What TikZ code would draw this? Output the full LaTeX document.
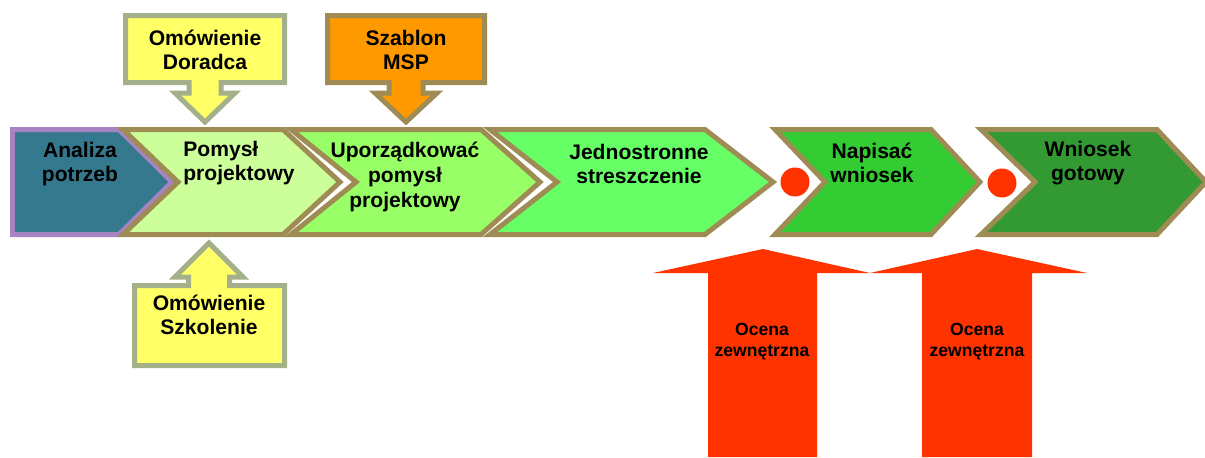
\documentclass[tikz,border=0pt]{standalone}
\usepackage{fontspec}
\setmainfont{Liberation Sans}
\usepackage{tikz}

\definecolor{obwodka}{HTML}{9E8C54}
\definecolor{fiolet}{HTML}{A783C2}
\definecolor{morski}{HTML}{35798F}
\definecolor{ziel1}{HTML}{CCFF99}
\definecolor{ziel2}{HTML}{99FF66}
\definecolor{ziel3}{HTML}{66FF66}
\definecolor{ziel4}{HTML}{33CC33}
\definecolor{ziel5}{HTML}{339933}
\definecolor{zolty}{HTML}{FFFF66}
\definecolor{szarozielony}{HTML}{A3B08A}
\definecolor{pomarancz}{HTML}{FF9900}
\definecolor{czerwony}{HTML}{FF3300}

\begin{document}
\begin{tikzpicture}[x=0.02cm, y=-0.02cm,
    ramka/.style={draw=obwodka, line width=0.1cm, line join=miter},
    napis/.style={font=\bfseries\fontsize{12}{14}\selectfont, align=center, inner sep=0pt},
    maly/.style={font=\bfseries\fontsize{10}{12}\selectfont, align=center, inner sep=0pt},
    kropka/.style={circle, fill=czerwony, minimum size=0.58cm, inner sep=0pt}]

    \useasboundingbox (0,0) rectangle (1205,457);

    % strzalki oceny
    \fill[czerwony] (708,457) -- (708,273) -- (653,273) -- (763,249) -- (870,273)
        -- (817,273) -- (817,457) -- cycle;
    \fill[czerwony] (922,457) -- (922,273) -- (870,273) -- (977,249) -- (1087,273)
        -- (1032,273) -- (1032,457) -- cycle;

    % etapy
    \draw[ramka, draw=fiolet, fill=morski] (12.5,129.5) -- (119,129.5) -- (172,182)
        -- (119,234.5) -- (12.5,234.5) -- cycle;
    \draw[ramka, fill=ziel1] (123,129.5) -- (283,129.5) -- (340,182) -- (283,234.5)
        -- (123,234.5) -- (178,182) -- cycle;
    \draw[ramka, fill=ziel2] (291,129.5) -- (481,129.5) -- (540,182) -- (481,234.5)
        -- (291,234.5) -- (356,182) -- cycle;
    \draw[ramka, fill=ziel3] (490,129.5) -- (705,129.5) -- (773,182) -- (705,234.5)
        -- (490,234.5) -- (557,182) -- cycle;
    \draw[ramka, fill=ziel4] (775,129.5) -- (931,129.5) -- (980,182) -- (931,234.5)
        -- (775,234.5) -- (825,182) -- cycle;
    \draw[ramka, fill=ziel5] (981,129.5) -- (1157,129.5) -- (1206,182) -- (1157,234.5)
        -- (981,234.5) -- (1035,182) -- cycle;

    \node[kropka] (k1) at (795,182) {};
    \node[kropka] (k2) at (1002,183) {};

    % objasnienia
    \draw[ramka, draw=szarozielony, fill=zolty] (125.5,15.5) -- (284.5,15.5) -- (284.5,82.5)
        -- (221,82.5) -- (221,93) -- (235,93) -- (205,122) -- (175,93) -- (189,93)
        -- (189,82.5) -- (125.5,82.5) -- cycle;
    \draw[ramka, fill=pomarancz] (327.5,15.5) -- (484.5,15.5) -- (484.5,82.5)
        -- (423,82.5) -- (423,93) -- (437,93) -- (406,122) -- (375,93) -- (389,93)
        -- (389,82.5) -- (327.5,82.5) -- cycle;
    \draw[ramka, draw=szarozielony, fill=zolty] (134.5,285.5) -- (188.5,285.5) -- (188.5,277)
        -- (175,277) -- (209,243) -- (243,277) -- (229.5,277) -- (229.5,285.5)
        -- (284.5,285.5) -- (284.5,365.5) -- (134.5,365.5) -- cycle;

    \node[napis] (analiza) at (80,164) {Analiza\\potrzeb};
    \node[napis, anchor=west, align=left] (pomysl) at (183,163) {Pomysł\\projektowy};
    \node[napis] (uporzadkowac) at (405,177) {Uporządkować\\pomysł\\projektowy};
    \node[napis] (streszczenie) at (639,164) {Jednostronne\\streszczenie};
    \node[napis] (napisac) at (872,163) {Napisać\\wniosek};
    \node[napis] (gotowy) at (1088,163) {Wniosek\\gotowy};

    \node[napis] (doradca) at (205,50) {Omówienie\\Doradca};
    \node[napis] (szablon) at (406,50) {Szablon\\MSP};
    \node[napis] (szkolenie) at (209,315) {Omówienie\\Szkolenie};

    \node[maly] (ocena1) at (762,342) {Ocena\\zewnętrzna};
    \node[maly] (ocena2) at (977,342) {Ocena\\zewnętrzna};

\end{tikzpicture}
\end{document}
